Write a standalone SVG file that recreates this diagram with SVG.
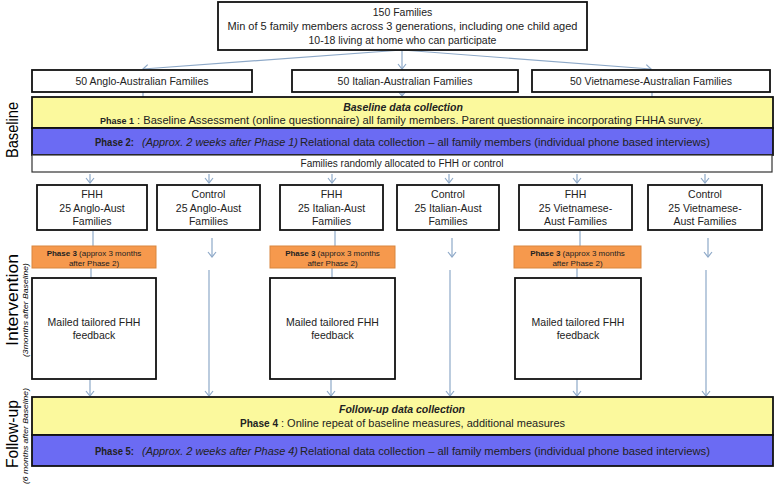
<svg xmlns="http://www.w3.org/2000/svg" width="778" height="488" viewBox="0 0 778 488">
<defs>
<marker id="ah" viewBox="-6 -5 7 10" refX="0" refY="0" markerWidth="7" markerHeight="10" markerUnits="userSpaceOnUse" orient="auto">
<polyline points="-5,-4 0,0 -5,4" fill="none" stroke="#8ea9c8" stroke-width="1.2"/>
</marker>
<style>
text{font-family:"Liberation Sans",Arial,sans-serif;fill:#222;}
.box{fill:#fff;stroke:#111;stroke-width:1.8;}
.yel{fill:#fbf99d;stroke:#111;stroke-width:1.8;}
.blu{fill:#6b6bf3;stroke:#111;stroke-width:1.8;}
.wht{fill:#fff;stroke:#333;stroke-width:1.2;}
.org{fill:#f6994d;stroke:#d9863e;stroke-width:1;}
.c{text-anchor:middle;}
.t11{font-size:10.5px;}
.t10{font-size:10px;}
.t95{font-size:9.5px;}
.t8{font-size:8px;}
.b{font-weight:bold;}
.bi{font-weight:bold;font-style:italic;}
.i{font-style:italic;}
.side{font-size:16px;fill:#000;text-anchor:middle;}
.sub{font-size:8px;font-style:italic;fill:#000;text-anchor:middle;}
.con line{stroke:#8ea9c8;stroke-width:1.2;fill:none;}
.arw{marker-end:url(#ah);}
</style>
</defs>

<g id="labels">
<text class="side" transform="translate(18,130) rotate(-90)" textLength="56" lengthAdjust="spacingAndGlyphs">Baseline</text>
<text class="side" transform="translate(18,300) rotate(-90)" textLength="92" lengthAdjust="spacingAndGlyphs">Intervention</text>
<text class="sub" transform="translate(28,310) rotate(-90)" textLength="94" lengthAdjust="spacingAndGlyphs">(3months after Baseline)</text>
<text class="side" transform="translate(18,434) rotate(-90)" textLength="68" lengthAdjust="spacingAndGlyphs">Follow-up</text>
<text class="sub" transform="translate(28,436) rotate(-90)" textLength="96" lengthAdjust="spacingAndGlyphs">(6 months after Baseline)</text>
</g>

<g id="connectors" class="con">
<line class="arw" x1="402" y1="50" x2="143" y2="69"/>
<line class="arw" x1="402" y1="50" x2="402" y2="69"/>
<line class="arw" x1="402" y1="50" x2="651" y2="69"/>
<line x1="143" y1="92" x2="143" y2="97"/>
<line class="arw" x1="402" y1="92" x2="402" y2="96"/>
<line x1="652" y1="92" x2="652" y2="97"/>
<line class="arw" x1="90" y1="174" x2="90" y2="183"/>
<line class="arw" x1="209" y1="174" x2="209" y2="183"/>
<line class="arw" x1="332" y1="174" x2="332" y2="183"/>
<line class="arw" x1="449" y1="174" x2="449" y2="183"/>
<line class="arw" x1="577" y1="174" x2="577" y2="183"/>
<line class="arw" x1="705" y1="174" x2="705" y2="183"/>
<line x1="93" y1="231" x2="93" y2="246"/>
<line x1="335" y1="231" x2="335" y2="246"/>
<line x1="580" y1="231" x2="580" y2="246"/>
<line x1="91" y1="268" x2="91" y2="278"/>
<line x1="332" y1="268" x2="332" y2="278"/>
<line x1="577" y1="268" x2="577" y2="278"/>
<line class="arw" x1="212" y1="238" x2="212" y2="257"/>
<line class="arw" x1="452" y1="238" x2="452" y2="257"/>
<line class="arw" x1="708" y1="238" x2="708" y2="257"/>
<line class="arw" x1="209" y1="270" x2="209" y2="396"/>
<line class="arw" x1="450" y1="270" x2="450" y2="396"/>
<line class="arw" x1="706" y1="270" x2="706" y2="396"/>
<line class="arw" x1="90" y1="379" x2="90" y2="396"/>
<line class="arw" x1="331" y1="379" x2="331" y2="396"/>
<line class="arw" x1="577" y1="379" x2="577" y2="396"/>
<line x1="403" y1="429" x2="403" y2="437"/>
</g>

<g id="n-top">
<rect class="box" x="218" y="2" width="369" height="48"/>
<text class="c t11" x="402.5" y="15.5">150 Families</text>
<text class="c t11" x="402.5" y="30" textLength="350" lengthAdjust="spacingAndGlyphs">Min of 5 family members across 3 generations, including one child aged</text>
<text class="c t11" x="402.5" y="44">10-18 living at home who can participate</text>
</g>

<g id="n-anglo">
<rect class="box" x="32" y="70" width="220" height="22"/>
<text class="c t11" x="142" y="85">50 Anglo-Australian Families</text>
</g>
<g id="n-italian">
<rect class="box" x="292" y="70" width="226" height="22"/>
<text class="c t11" x="405" y="85">50 Italian-Australian Families</text>
</g>
<g id="n-viet">
<rect class="box" x="532" y="70" width="238" height="22"/>
<text class="c t11" x="651" y="85">50 Vietnamese-Australian Families</text>
</g>

<g id="n-baseline">
<rect class="yel" x="32" y="97" width="741" height="31"/>
<text class="c t11 bi" x="403" y="110.5">Baseline data collection</text>
<text class="t95 b" x="100" y="124" textLength="34" lengthAdjust="spacingAndGlyphs">Phase 1</text>
<text class="t11" x="137" y="124" textLength="566" lengthAdjust="spacingAndGlyphs">: Baseline Assessment (online questionnaire) all family members. Parent questionnaire incorporating FHHA survey.</text>
</g>
<g id="n-phase2">
<rect class="blu" x="32" y="128" width="741" height="27"/>
<text class="t11 b" x="95" y="145.5" textLength="39" lengthAdjust="spacingAndGlyphs">Phase 2:</text>
<text class="t11 i" x="142" y="145.5" textLength="156" lengthAdjust="spacingAndGlyphs">(Approx. 2 weeks after Phase 1)</text>
<text class="t11" x="300" y="145.5" textLength="410" lengthAdjust="spacingAndGlyphs">Relational data collection –  all family members (individual phone based interviews)</text>
</g>
<g id="n-random">
<rect class="wht" x="32" y="155" width="740" height="17"/>
<text class="c t10" x="402" y="167">Families randomly  allocated to FHH or control</text>
</g>

<g id="n-fhh-anglo">
<rect class="box" x="37" y="185" width="110" height="45"/>
<text class="c t11" x="92" y="198">FHH</text>
<text class="c t11" x="92" y="212">25 Anglo-Aust</text>
<text class="c t11" x="92" y="225">Families</text>
</g>
<g id="n-ctl-anglo">
<rect class="box" x="157" y="185" width="103" height="45"/>
<text class="c t11" x="208.5" y="198">Control</text>
<text class="c t11" x="208.5" y="212">25 Anglo-Aust</text>
<text class="c t11" x="208.5" y="225">Families</text>
</g>
<g id="n-fhh-italian">
<rect class="box" x="280" y="185" width="103" height="45"/>
<text class="c t11" x="331.5" y="198">FHH</text>
<text class="c t11" x="331.5" y="212">25 Italian-Aust</text>
<text class="c t11" x="331.5" y="225">Families</text>
</g>
<g id="n-ctl-italian">
<rect class="box" x="397" y="185" width="102" height="45"/>
<text class="c t11" x="448" y="198">Control</text>
<text class="c t11" x="448" y="212">25 Italian-Aust</text>
<text class="c t11" x="448" y="225">Families</text>
</g>
<g id="n-fhh-viet">
<rect class="box" x="519" y="185" width="113" height="45"/>
<text class="c t11" x="575.5" y="198">FHH</text>
<text class="c t11" x="575.5" y="212">25 Vietnamese-</text>
<text class="c t11" x="575.5" y="225">Aust Families</text>
</g>
<g id="n-ctl-viet">
<rect class="box" x="648" y="185" width="114" height="45"/>
<text class="c t11" x="705" y="198">Control</text>
<text class="c t11" x="705" y="212">25 Vietnamese-</text>
<text class="c t11" x="705" y="225">Aust Families</text>
</g>

<g id="n-p3-anglo">
<rect class="org" x="32" y="246" width="124" height="22"/>
<text class="c t8" x="94" y="255.5"><tspan class="b">Phase 3</tspan> (approx 3 months</text>
<text class="c t8" x="94" y="265.5">after Phase 2)</text>
</g>
<g id="n-p3-italian">
<rect class="org" x="270" y="246" width="125" height="22"/>
<text class="c t8" x="332.5" y="255.5"><tspan class="b">Phase 3</tspan> (approx 3 months</text>
<text class="c t8" x="332.5" y="265.5">after Phase 2)</text>
</g>
<g id="n-p3-viet">
<rect class="org" x="514" y="246" width="127" height="22"/>
<text class="c t8" x="577.5" y="255.5"><tspan class="b">Phase 3</tspan> (approx 3 months</text>
<text class="c t8" x="577.5" y="265.5">after Phase 2)</text>
</g>

<g id="n-mail-anglo">
<rect class="box" x="32" y="278" width="124" height="101"/>
<text class="c t11" x="94" y="326">Mailed tailored FHH</text>
<text class="c t11" x="94" y="339">feedback</text>
</g>
<g id="n-mail-italian">
<rect class="box" x="270" y="278" width="125" height="101"/>
<text class="c t11" x="332.5" y="326">Mailed tailored FHH</text>
<text class="c t11" x="332.5" y="339">feedback</text>
</g>
<g id="n-mail-viet">
<rect class="box" x="515" y="278" width="126" height="101"/>
<text class="c t11" x="578" y="326">Mailed tailored FHH</text>
<text class="c t11" x="578" y="339">feedback</text>
</g>

<g id="n-followup">
<rect class="yel" x="32" y="397" width="741" height="38"/>
<text class="c t11 bi" x="402" y="413">Follow-up data collection</text>
<text class="t11 b" x="240" y="426.5" textLength="38" lengthAdjust="spacingAndGlyphs">Phase 4</text>
<text class="t11" x="281" y="426.5" textLength="284" lengthAdjust="spacingAndGlyphs">: Online repeat of baseline measures, additional measures</text>
</g>
<g id="n-phase5">
<rect class="blu" x="32" y="435" width="741" height="31"/>
<text class="t11 b" x="95" y="455" textLength="39" lengthAdjust="spacingAndGlyphs">Phase 5:</text>
<text class="t11 i" x="142" y="455" textLength="156" lengthAdjust="spacingAndGlyphs">(Approx. 2 weeks after Phase 4)</text>
<text class="t11" x="300" y="455" textLength="410" lengthAdjust="spacingAndGlyphs">Relational data collection –  all family members (individual phone based interviews)</text>
</g>
</svg>
